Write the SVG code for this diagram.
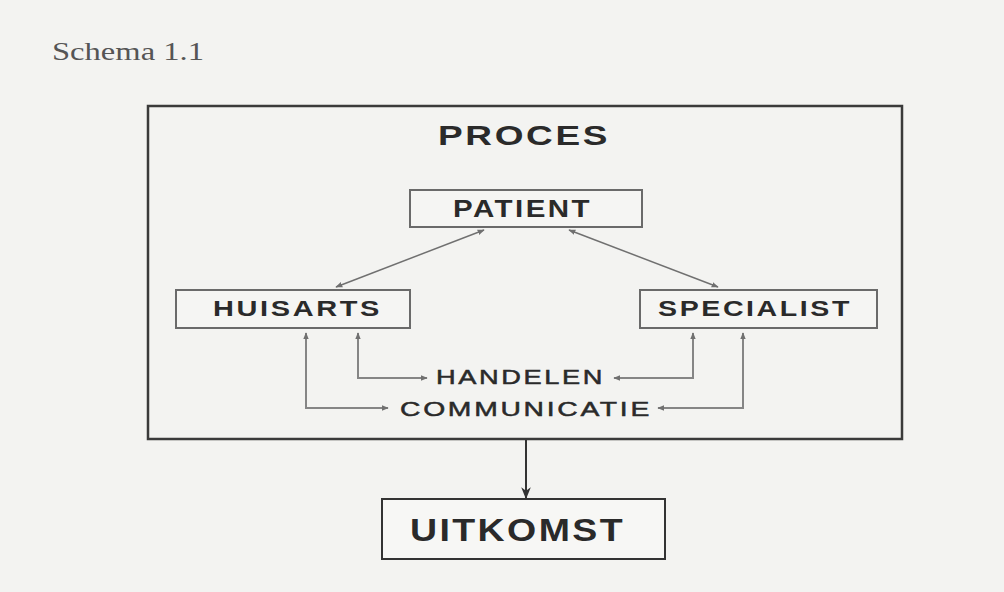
<svg xmlns="http://www.w3.org/2000/svg" width="1004" height="592" viewBox="0 0 1004 592">
<defs>
<style>
.bg{fill:#f3f3f1}
.outer{fill:none;stroke:#3a3a3a;stroke-width:2.5}
.box{fill:#f5f5f3;stroke:#6a6a6a;stroke-width:2}
.lbl{font-family:"Liberation Sans",Arial,sans-serif;font-weight:bold;fill:#2a2a2a;letter-spacing:2px}
.flow{font-family:"Liberation Sans",Arial,sans-serif;fill:#2a2a2a;stroke:#2a2a2a;stroke-width:0.5;letter-spacing:2px}
.con{fill:none;stroke:#858585;stroke-width:2}
.thin{fill:none;stroke:#707070;stroke-width:1.5}
</style>
<marker id="ah" viewBox="0 0 10 10" refX="9" refY="5" markerWidth="7" markerHeight="7" orient="auto-start-reverse" markerUnits="userSpaceOnUse">
<path d="M0,1 L10,5 L0,9 z" fill="#707070"/>
</marker>
<marker id="ahd" viewBox="0 0 10 10" refX="9" refY="5" markerWidth="12" markerHeight="12" orient="auto" markerUnits="userSpaceOnUse">
<path d="M0,1 L10,5 L0,9 L3,5 z" fill="#333"/>
</marker>
</defs>
<rect class="bg" x="0" y="0" width="1004" height="592"/>
<text x="52" y="60" font-family="Liberation Serif,'Times New Roman',serif" font-size="26" fill="#555" textLength="152" lengthAdjust="spacingAndGlyphs">Schema 1.1</text>

<g id="proces">
<rect class="outer" x="148" y="106" width="754" height="333"/>
<text class="lbl" x="438" y="145" font-size="28" textLength="172" lengthAdjust="spacingAndGlyphs">PROCES</text>
</g>
<g id="patient">
<rect class="box" x="410" y="190" width="232" height="37"/>
<text class="lbl" x="453" y="217" font-size="24" textLength="139" lengthAdjust="spacingAndGlyphs">PATIENT</text>
</g>
<g id="huisarts">
<rect class="box" x="176" y="290" width="234" height="38"/>
<text class="lbl" x="213" y="316" font-size="22" textLength="169" lengthAdjust="spacingAndGlyphs">HUISARTS</text>
</g>
<g id="specialist">
<rect class="box" x="640" y="290" width="237" height="38"/>
<text class="lbl" x="658" y="316" font-size="22" textLength="194" lengthAdjust="spacingAndGlyphs">SPECIALIST</text>
</g>
<g id="handelen">
<text class="flow" x="436" y="384" font-size="21" textLength="169" lengthAdjust="spacingAndGlyphs">HANDELEN</text>
</g>
<g id="communicatie">
<text class="flow" x="400" y="416" font-size="21" textLength="252" lengthAdjust="spacingAndGlyphs">COMMUNICATIE</text>
</g>
<g id="uitkomst">
<rect class="box" x="382" y="499" width="283" height="60" style="stroke:#333;fill:#f7f7f5"/>
<text class="lbl" x="410" y="541" font-size="31" textLength="215" lengthAdjust="spacingAndGlyphs">UITKOMST</text>
</g>

<g id="connectors">
<line class="thin" x1="484" y1="230" x2="336" y2="287" marker-start="url(#ah)" marker-end="url(#ah)"/>
<line class="thin" x1="569" y1="230" x2="718" y2="287" marker-start="url(#ah)" marker-end="url(#ah)"/>
<polyline class="con" points="358,333 358,378 427,378" marker-start="url(#ah)" marker-end="url(#ah)"/>
<polyline class="con" points="306,333 306,408 388,408" marker-start="url(#ah)" marker-end="url(#ah)"/>
<polyline class="con" points="693,333 693,378 614,378" marker-start="url(#ah)" marker-end="url(#ah)"/>
<polyline class="con" points="743,333 743,408 658,408" marker-start="url(#ah)" marker-end="url(#ah)"/>
<line x1="526" y1="440" x2="526" y2="498" stroke="#333" stroke-width="2" marker-end="url(#ahd)"/>
</g>
</svg>
